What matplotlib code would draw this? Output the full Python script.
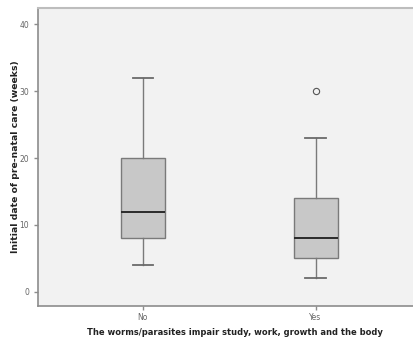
import matplotlib
matplotlib.use("Agg")
from matplotlib import pyplot as plt

groups = ["No", "Yes"]
whisker_low = [4, 2]
q1 = [8, 5]
medians = [12, 8]
q3 = [20, 14]
whisker_high = [32, 23]
outliers = [[], [30]]

stats = []
for i, g in enumerate(groups):
    stats.append({
        "label": g,
        "whislo": whisker_low[i],
        "q1": q1[i],
        "med": medians[i],
        "q3": q3[i],
        "whishi": whisker_high[i],
        "fliers": outliers[i],
    })

fig = plt.figure(figsize=(4.14, 3.38), dpi=100)
ax = fig.add_axes([0.092, 0.095, 0.908, 0.881])
ax.set_facecolor("#f2f2f2")

ax.bxp(
    stats, positions=[1, 2], widths=0.254, patch_artist=True,
    boxprops=dict(facecolor="#c8c8c8", edgecolor="#7a7a7a", linewidth=1.0),
    medianprops=dict(color="#2a2a2a", linewidth=1.4),
    whiskerprops=dict(color="#7a7a7a", linewidth=1.0),
    capprops=dict(color="#6a6a6a", linewidth=1.3),
    capwidths=0.12,
    flierprops=dict(marker="o", markerfacecolor="none", markeredgecolor="#555555",
                    markersize=4.5, markeredgewidth=0.8),
)

ax.set_xlim(0.393, 2.57)
ax.set_ylim(-2.1, 42.4)
ax.set_yticks([0, 10, 20, 30, 40])
ax.set_xticks([1, 2])
ax.set_xticklabels(groups)

for side in ["left", "bottom"]:
    ax.spines[side].set_color("#8c8c8c")
    ax.spines[side].set_linewidth(1.2)
ax.spines["top"].set_color("#bdbdbd")
ax.spines["top"].set_linewidth(1.5)
ax.spines["right"].set_visible(False)

ax.tick_params(axis="both", colors="#8c8c8c", labelcolor="#666666",
               labelsize=5.5, length=3, width=1)
ax.tick_params(axis="x", pad=2)

ax.set_ylabel("Initial date of pre-natal care (weeks)", fontsize=6.7,
              fontweight="bold", color="#222222")
ax.yaxis.set_label_coords(-0.048, 0.5)
ax.set_xlabel("The worms/parasites impair study, work, growth and the body",
              fontsize=6.0, fontweight="bold", color="#222222")
ax.xaxis.set_label_coords(0.524, -0.074)

fig.savefig("out.png", dpi=100)
